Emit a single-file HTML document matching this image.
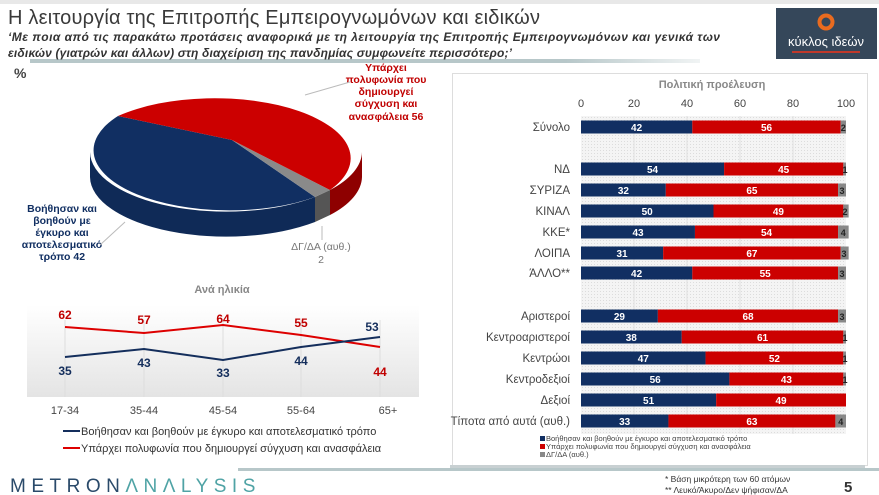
<!DOCTYPE html>
<html><head><meta charset="utf-8"><style>
body{margin:0;width:879px;height:495px;background:#fff;overflow:hidden;font-family:"Liberation Sans","DejaVu Sans",sans-serif}
svg{position:absolute;left:0;top:0}
</style></head><body>
<svg width="879" height="495" viewBox="0 0 879 495" xmlns="http://www.w3.org/2000/svg" font-family="Liberation Sans, DejaVu Sans, sans-serif">
<defs>
<linearGradient id="lg" x1="0" y1="0" x2="0" y2="1"><stop offset="0" stop-color="#fff"/><stop offset="1" stop-color="#e4e4e4"/></linearGradient>
<linearGradient id="hb" x1="0" y1="0" x2="1" y2="0"><stop offset="0" stop-color="#b7c7c9"/><stop offset="0.8" stop-color="#b7c7c9"/><stop offset="1" stop-color="#b7c7c9" stop-opacity="0.2"/></linearGradient>
<pattern id="dots" width="3" height="3" patternUnits="userSpaceOnUse"><rect width="3" height="3" fill="#f4f4f4"/><rect width="1" height="1" fill="#dcdcdc"/></pattern>
</defs>
<rect x="0" y="0" width="879" height="4" fill="#e8e8e8"/>
<text x="8" y="24" font-size="20" fill="#3a3a3a" textLength="532">Η λειτουργία της Επιτροπής Εμπειρογνωμόνων και ειδικών</text>
<rect x="30" y="59" width="670" height="4" fill="url(#hb)"/>
<text x="8" y="41" font-size="12" font-style="italic" font-weight="bold" fill="#333" textLength="712">‘Με ποια από τις παρακάτω προτάσεις αναφορικά με τη λειτουργία της Επιτροπής Εμπειρογνωμόνων και γενικά των</text>
<text x="8" y="57" font-size="12" font-style="italic" font-weight="bold" fill="#333" textLength="504">ειδικών (γιατρών και άλλων) στη διαχείριση της πανδημίας συμφωνείτε περισσότερο;’</text>
<rect x="776" y="8" width="101" height="51" fill="#35475a"/>
<circle cx="826" cy="22" r="6.5" fill="none" stroke="#e96b1f" stroke-width="4"/>
<text x="826" y="46" font-size="13" fill="#fff" text-anchor="middle">κύκλος ιδεών</text>
<rect x="792" y="51" width="68" height="2" fill="#c0392b"/>
<text x="14" y="78" font-size="14" font-weight="bold" fill="#444">%</text>
<path d="M90,152 A136,60 0 0 0 315,197 L315,222 A136,60 0 0 1 90,177 Z" fill="#0f2a57"/>
<path d="M315,197 L330,190 L330,215 L315,222 Z" fill="#555"/>
<path d="M330,190 A136,60 0 0 0 362,152 L362,177 A136,60 0 0 1 330,215 Z" fill="#8e0000"/>
<path d="M232,140 L118,116 A136,60 0 0 0 315,197 Z" fill="#112f62"/>
<path d="M232,140 L315,197 L330,190 Z" fill="#8a8a8a"/>
<path d="M232,140 L330,190 A136,60 0 0 0 118,116 Z" fill="#cc0000"/>
<g font-size="10.5" font-weight="bold" fill="#c00000" text-anchor="middle">
<text x="386" y="71">Υπάρχει</text><text x="386" y="83">πολυφωνία που</text><text x="386" y="95">δημιουργεί</text><text x="386" y="107">σύγχυση και</text><text x="386" y="120">ανασφάλεια 56</text></g>
<line x1="350" y1="82" x2="305" y2="95" stroke="#bbb"/>
<g font-size="10.5" font-weight="bold" fill="#112f62" text-anchor="middle">
<text x="62" y="212">Βοήθησαν και</text><text x="62" y="224">βοηθούν  με</text><text x="62" y="236">έγκυρο και</text><text x="62" y="248">αποτελεσματικό</text><text x="62" y="260">τρόπο 42</text></g>
<line x1="100" y1="245" x2="125" y2="222" stroke="#bbb"/>
<text x="321" y="250" font-size="10.5" fill="#777" text-anchor="middle">ΔΓ/ΔΑ (αυθ.)</text>
<text x="321" y="263" font-size="10.5" fill="#777" text-anchor="middle">2</text>
<line x1="322" y1="226" x2="322" y2="240" stroke="#bbb"/>
<text x="222" y="293" font-size="11" font-weight="bold" fill="#888" text-anchor="middle">Ανά ηλικία</text>
<rect x="27" y="305" width="392" height="92" fill="url(#lg)"/>
<g stroke="#ddd"><line x1="65" y1="320" x2="65" y2="397"/><line x1="144" y1="320" x2="144" y2="397"/><line x1="223" y1="320" x2="223" y2="397"/><line x1="301" y1="320" x2="301" y2="397"/><line x1="380" y1="320" x2="380" y2="397"/></g>
<polyline points="65,327 144,333 223,325 301,335 380,347" fill="none" stroke="#d00" stroke-width="2"/>
<polyline points="65,357 144,349 223,360 301,347 380,337" fill="none" stroke="#142e5c" stroke-width="2"/>
<g font-size="12" font-weight="bold" fill="#c00000" text-anchor="middle"><text x="65" y="319">62</text><text x="144" y="324">57</text><text x="223" y="323">64</text><text x="301" y="327">55</text><text x="380" y="376">44</text></g>
<g font-size="12" font-weight="bold" fill="#142e5c" text-anchor="middle"><text x="65" y="375">35</text><text x="144" y="367">43</text><text x="223" y="377">33</text><text x="301" y="365">44</text><text x="372" y="331">53</text></g>
<g font-size="11" fill="#444" text-anchor="middle"><text x="65" y="414">17-34</text><text x="144" y="414">35-44</text><text x="223" y="414">45-54</text><text x="301" y="414">55-64</text><text x="388" y="414">65+</text></g>
<line x1="63" y1="431" x2="80" y2="431" stroke="#142e5c" stroke-width="2"/>
<text x="81" y="435" font-size="11" fill="#333">Βοήθησαν και βοηθούν  με έγκυρο και αποτελεσματικό τρόπο</text>
<line x1="63" y1="448" x2="80" y2="448" stroke="#d00" stroke-width="2"/>
<text x="81" y="452" font-size="11" fill="#333">Υπάρχει πολυφωνία που δημιουργεί σύγχυση και ανασφάλεια</text>
<rect x="238" y="468" width="641" height="3" fill="#b7c7c9"/>
<text x="10" y="492" font-size="19" fill="#2a4a6a" letter-spacing="5.5">METRON<tspan fill="#4fa3a5">ΛNΛLYSIS</tspan></text>
<rect x="452.5" y="73.5" width="415" height="392" fill="#fff" stroke="#ddd"/>
<rect x="450" y="465" width="415" height="3" fill="#c8d0d2"/>
<text x="712" y="88" font-size="11" font-weight="bold" fill="#888" text-anchor="middle">Πολιτική προέλευση</text>
<g font-size="11" fill="#444" text-anchor="middle"><text x="581" y="107">0</text><text x="634" y="107">20</text><text x="687" y="107">40</text><text x="740" y="107">60</text><text x="793" y="107">80</text><text x="846" y="107">100</text></g>
<rect x="581" y="116" width="265" height="318" fill="url(#dots)"/>
<g stroke="#e0e0e0"><line x1="634" y1="116" x2="634" y2="434"/><line x1="687" y1="116" x2="687" y2="434"/><line x1="740" y1="116" x2="740" y2="434"/><line x1="793" y1="116" x2="793" y2="434"/></g>
<g font-size="11.5" fill="#444" text-anchor="end">
<text x="570" y="131">Σύνολο</text><text x="570" y="173">ΝΔ</text><text x="570" y="194">ΣΥΡΙΖΑ</text><text x="570" y="215">ΚΙΝΑΛ</text><text x="570" y="236">ΚΚΕ*</text><text x="570" y="257">ΛΟΙΠΑ</text><text x="570" y="277">ΆΛΛΟ**</text><text x="570" y="320">Αριστεροί</text><text x="570" y="341">Κεντροαριστεροί</text><text x="570" y="362">Κεντρώοι</text><text x="570" y="383">Κεντροδεξιοί</text><text x="570" y="404">Δεξιοί</text><text x="570" y="425">Τίποτα από αυτά (αυθ.)</text></g>
<g fill="#112f62">
<rect x="581" y="120.5" width="111.3" height="13"/><rect x="581" y="162.5" width="143.1" height="13"/><rect x="581" y="183.5" width="84.8" height="13"/><rect x="581" y="204.5" width="132.5" height="13"/><rect x="581" y="225.5" width="113.95" height="13"/><rect x="581" y="246.5" width="82.15" height="13"/><rect x="581" y="266.5" width="111.3" height="13"/><rect x="581" y="309.5" width="76.85" height="13"/><rect x="581" y="330.5" width="100.7" height="13"/><rect x="581" y="351.5" width="124.55" height="13"/><rect x="581" y="372.5" width="148.4" height="13"/><rect x="581" y="393.5" width="135.15" height="13"/><rect x="581" y="414.5" width="87.45" height="13"/></g>
<g fill="#cc0000">
<rect x="692.3" y="120.5" width="148.4" height="13"/><rect x="724.1" y="162.5" width="119.25" height="13"/><rect x="665.8" y="183.5" width="172.25" height="13"/><rect x="713.5" y="204.5" width="129.85" height="13"/><rect x="694.95" y="225.5" width="143.1" height="13"/><rect x="663.15" y="246.5" width="177.55" height="13"/><rect x="692.3" y="266.5" width="145.75" height="13"/><rect x="657.85" y="309.5" width="180.2" height="13"/><rect x="681.7" y="330.5" width="161.65" height="13"/><rect x="705.55" y="351.5" width="137.8" height="13"/><rect x="729.4" y="372.5" width="113.95" height="13"/><rect x="716.15" y="393.5" width="129.85" height="13"/><rect x="668.45" y="414.5" width="166.95" height="13"/></g>
<g fill="#888">
<rect x="840.7" y="120.5" width="5.3" height="13"/><rect x="843.35" y="162.5" width="2.65" height="13"/><rect x="838.05" y="183.5" width="7.95" height="13"/><rect x="843.35" y="204.5" width="5.3" height="13"/><rect x="838.05" y="225.5" width="10.6" height="13"/><rect x="840.7" y="246.5" width="7.95" height="13"/><rect x="838.05" y="266.5" width="7.95" height="13"/><rect x="838.05" y="309.5" width="7.95" height="13"/><rect x="843.35" y="330.5" width="2.65" height="13"/><rect x="843.35" y="351.5" width="2.65" height="13"/><rect x="843.35" y="372.5" width="2.65" height="13"/><rect x="835.4" y="414.5" width="10.6" height="13"/></g>
<g font-size="10" font-weight="bold" fill="#fff" text-anchor="middle">
<text x="636.6" y="131">42</text><text x="766.5" y="131">56</text>
<text x="652.5" y="173">54</text><text x="783.7" y="173">45</text>
<text x="623.4" y="194">32</text><text x="751.9" y="194">65</text>
<text x="647.2" y="215">50</text><text x="778.4" y="215">49</text>
<text x="638" y="236">43</text><text x="766.5" y="236">54</text>
<text x="622" y="257">31</text><text x="751.9" y="257">67</text>
<text x="636.6" y="277">42</text><text x="765.2" y="277">55</text>
<text x="619.4" y="320">29</text><text x="748" y="320">68</text>
<text x="631.3" y="341">38</text><text x="762.5" y="341">61</text>
<text x="643.3" y="362">47</text><text x="774.4" y="362">52</text>
<text x="655.2" y="383">56</text><text x="786.4" y="383">43</text>
<text x="648.6" y="404">51</text><text x="781" y="404">49</text>
<text x="624.7" y="425">33</text><text x="751.9" y="425">63</text></g>
<g font-size="9" font-weight="bold" fill="#222" text-anchor="middle">
<text x="843.3" y="131">2</text><text x="845" y="173">1</text><text x="842" y="194">3</text><text x="845" y="215">2</text><text x="843.3" y="236">4</text><text x="844" y="257">3</text><text x="842" y="277">3</text><text x="842" y="320">3</text><text x="845" y="341">1</text><text x="845" y="362">1</text><text x="845" y="383">1</text><text x="840.7" y="425">4</text></g>
<g font-size="7.5" fill="#444">
<rect x="540" y="436" width="5" height="5" fill="#112f62"/><text x="546" y="441">Βοήθησαν και βοηθούν  με έγκυρο και αποτελεσματικό τρόπο</text>
<rect x="540" y="444" width="5" height="5" fill="#cc0000"/><text x="546" y="449">Υπάρχει πολυφωνία που δημιουργεί σύγχυση και ανασφάλεια</text>
<rect x="540" y="452" width="5" height="5" fill="#888"/><text x="546" y="457">ΔΓ/ΔΑ (αυθ.)</text></g>
<g font-size="8.5" fill="#333"><text x="665" y="482">*  Βάση μικρότερη των 60 ατόμων</text><text x="665" y="493">** Λευκό/Άκυρο/Δεν ψήφισαν/ΔΑ</text></g>
<text x="844" y="492" font-size="15" font-weight="bold" fill="#333">5</text>
</svg>
</body></html>
